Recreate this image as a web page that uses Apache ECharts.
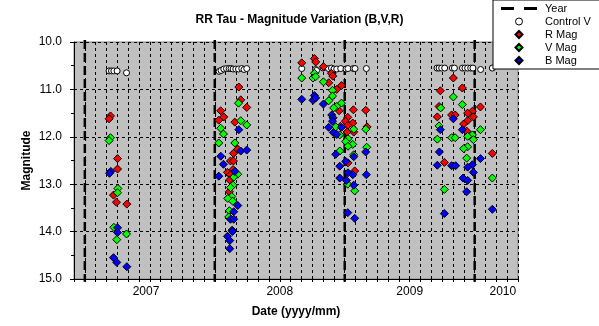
<!DOCTYPE html>
<html><head><meta charset="utf-8">
<script src="https://cdn.jsdelivr.net/npm/echarts@6/dist/echarts.min.js"></script>
<style>html,body{margin:0;padding:0;background:#fff}#c{width:599px;height:326px}</style>
</head><body><div id="c"></div><script>
// x values are months counted from January 2007 (0 = 2007/01)
const yearLines = [0, 12, 24, 36];
const yearLabels = ['2007', '2008', '2009', '2010'];
const yearLabelPos = [5.65, 18, 30, 38.6];
const magTicks = [10, 11, 12, 13, 14, 15];

const controlV = [
  [2.24,10.61],[2.46,10.61],[2.68,10.61],[2.98,10.61],[3.85,10.65],
  [12.4,10.62],[12.58,10.6],[12.83,10.57],[13.08,10.56],[13.32,10.56],[13.5,10.56],[13.69,10.57],[13.94,10.57],[14.19,10.57],[14.49,10.56],[14.7,10.58],[14.95,10.56],
  [20.03,10.56],[21.3,10.58],[21.4,10.6],[22.0,10.55],[22.5,10.56],[22.77,10.55],[22.9,10.66],[23.0,10.57],[23.26,10.57],[23.63,10.56],[24.12,10.57],[24.3,10.56],[24.8,10.56],[24.95,10.56],[26.0,10.56],
  [32.52,10.55],[32.71,10.55],[32.95,10.55],[33.23,10.55],[33.94,10.55],[34.13,10.55],[34.87,10.55],[35.1,10.55],[35.35,10.55],[35.63,10.55],[35.84,10.55],[36.55,10.58],[37.63,10.55]
];
const rMag = [
  [2.37,11.56],[2.24,11.62],[3.02,12.46],[3.02,12.68],[2.65,13.23],[2.92,13.38],[3.88,13.42],
  [14.22,10.95],[14.4,11.22],[14.95,11.38],[12.55,11.45],[12.83,11.58],[12.37,11.65],[13.85,11.69],[14.12,12.26],[13.72,12.35],[13.45,12.51],[13.72,12.51],[13.17,12.75],[13.69,12.69],[13.45,12.8],[13.38,12.91],[13.35,13.16],
  [20.03,10.44],[21.2,10.35],[21.32,10.42],[22.03,10.52],[22.77,10.66],[22.9,10.72],[22.52,10.86],[23.7,10.92],[23.26,11.0],[23.48,11.45],[24.8,11.43],[25.94,11.44],[24.28,11.59],[24.06,11.67],[24.74,11.71],[24.28,11.76],[26.06,11.79],[23.6,11.78],[24.83,11.9],[24.21,11.9],[24.3,12.55],[24.92,12.72],
  [34.03,10.76],[34.86,10.97],[32.83,11.03],[32.71,11.36],[36.53,11.37],[35.79,11.46],[35.35,11.5],[33.87,11.54],[34.2,11.54],[32.55,11.58],[35.88,11.58],[35.35,11.66],[34.98,11.73],[35.26,11.88],[37.63,12.35],[33.2,12.54]
];
const vMag = [
  [2.37,12.02],[2.24,12.08],[3.05,13.09],[3.02,13.18],[2.68,13.91],[3.85,14.05],[2.95,14.17],
  [14.19,11.29],[14.4,11.66],[14.95,11.75],[12.55,11.82],[12.8,11.94],[12.37,12.13],[13.85,12.13],[14.12,12.79],[13.75,12.85],[13.69,13.02],[13.45,13.07],[13.57,13.26],[13.2,13.3],[13.66,13.36],[13.35,13.56],[13.29,13.69],
  [20.03,10.76],[21.2,10.66],[21.07,10.76],[21.32,10.73],[22.03,10.84],[22.87,11.02],[22.87,11.14],[22.52,11.24],[23.7,11.29],[23.26,11.36],[22.98,11.39],[23.17,11.79],[24.83,11.84],[25.94,11.84],[23.54,11.96],[24.3,12.04],[24.09,12.1],[24.74,12.16],[24.3,12.2],[26.03,12.22],[23.54,12.3],[24.83,12.38],[24.28,13.0],[24.92,13.14],
  [34.03,11.16],[34.86,11.32],[32.86,11.39],[32.71,11.77],[36.53,11.85],[35.79,11.96],[35.35,11.99],[33.87,12.02],[34.2,12.02],[32.55,12.05],[35.88,12.06],[35.35,12.21],[34.98,12.25],[35.26,12.45],[37.63,12.87],[33.2,13.11]
];
const bMag = [
  [2.4,12.73],[2.28,12.77],[3.02,13.92],[3.02,14.02],[2.65,14.55],[2.95,14.65],[3.88,14.74],
  [14.22,11.85],[14.4,12.3],[14.95,12.28],[12.55,12.41],[12.8,12.58],[12.37,12.83],[13.85,12.73],[14.12,13.45],[13.75,13.58],[13.45,13.74],[13.75,13.74],[13.6,13.97],[13.63,14.0],[13.17,14.1],[13.38,14.19],[13.38,14.36],
  [20.03,11.21],[21.2,11.13],[21.07,11.23],[21.32,11.18],[22.03,11.31],[22.8,11.54],[22.92,11.6],[22.87,11.67],[22.52,11.8],[23.7,11.8],[22.95,11.91],[23.26,11.95],[23.17,12.37],[24.83,12.42],[25.94,12.32],[23.54,12.62],[24.3,12.76],[24.09,12.52],[24.74,12.8],[26.0,12.8],[23.54,12.87],[24.15,12.92],[24.83,13.02],[24.28,13.6],[24.92,13.72],
  [34.03,11.62],[34.86,11.85],[32.83,11.85],[32.74,12.32],[36.53,12.46],[35.79,12.59],[35.88,12.75],[35.35,12.64],[33.87,12.61],[34.24,12.61],[32.55,12.6],[34.92,12.87],[35.35,12.92],[35.26,13.16],[37.63,13.53],[33.2,13.62]
];

const FONT = 'Arial, "Liberation Sans", sans-serif';
const yearData = [];
yearLines.forEach(x => { yearData.push([x, 9.96], [x, 15.06], [x, null]); });

const DIAMOND = 'path://M4,0L8,4L4,8L0,4Z';

const chart = echarts.init(document.getElementById('c'), null, {renderer: 'canvas'});
const markerBase = {borderColor: '#000', borderWidth: 1, opacity: 1};
chart.setOption({
  animation: false,
  backgroundColor: '#fff',
  textStyle: {fontFamily: FONT},
  title: {
    text: 'RR Tau - Magnitude Variation (B,V,R)',
    left: 'center', top: 14, padding: 0,
    textStyle: {fontSize: 12, fontWeight: 'bold', color: '#000', fontFamily: FONT}
  },
  legend: {
    orient: 'vertical', left: 493, top: 0,
    padding: [2, 30, 2, 8],
    itemWidth: 36, itemHeight: 7, itemGap: 0,
    symbolKeepAspect: true,
    backgroundColor: '#fff', borderColor: '#000', borderWidth: 1, borderRadius: 0,
    textStyle: {fontSize: 11, lineHeight: 13, color: '#000', fontFamily: FONT, padding: [0, 0, 0, 3]},
    data: [
      {name: 'Year', icon: 'path://M0,0L13,0L13,3L0,3Z M23,0L36,0L36,3L23,3Z', itemStyle: {color: '#000'}},
      {name: 'Control V', icon: 'circle', itemStyle: {color: '#fff', borderColor: '#000', borderWidth: 1}},
      {name: 'R Mag', icon: DIAMOND},
      {name: 'V Mag', icon: DIAMOND},
      {name: 'B Mag', icon: DIAMOND}
    ]
  },
  grid: {
    left: 74, top: 42, right: 81, bottom: 47,
    show: true, backgroundColor: '#c0c0c0', borderColor: '#808080', borderWidth: 1
  },
  xAxis: {
    type: 'value', min: -1, max: 40, interval: 1,
    axisLine: {show: true, onZero: false, lineStyle: {color: '#000', width: 1}},
    axisTick: {show: true, length: 3, lineStyle: {color: '#000'}},
    splitLine: {show: true, lineStyle: {color: '#000', type: [3, 3], width: 1}},
    axisLabel: {
      customValues: yearLabelPos,
      formatter: v => { const i = yearLabelPos.indexOf(v); return i >= 0 ? yearLabels[i] : ''; },
      fontSize: 12, color: '#000', margin: 7, fontFamily: FONT
    },
    name: 'Date (yyyy/mm)', nameLocation: 'middle', nameGap: 27, nameMoveOverlap: false,
    nameTextStyle: {fontSize: 12, fontWeight: 'bold', color: '#000', fontFamily: FONT}
  },
  yAxis: {
    type: 'value', inverse: true, min: magTicks[0], max: magTicks[magTicks.length - 1], interval: 1,
    axisLine: {show: true, onZero: false, lineStyle: {color: '#000', width: 1}},
    axisTick: {show: true, length: 4, lineStyle: {color: '#000'}},
    minorTick: {show: true, splitNumber: 2, length: 3, lineStyle: {color: '#000'}},
    splitLine: {show: true, lineStyle: {color: '#000', type: [3, 3], width: 1}},
    axisLabel: {formatter: v => v.toFixed(1), fontSize: 12, color: '#000', margin: 12, fontFamily: FONT},
    name: 'Magnitude', nameLocation: 'middle', nameGap: 41, nameMoveOverlap: false,
    nameTextStyle: {fontSize: 12, fontWeight: 'bold', color: '#000', fontFamily: FONT}
  },
  series: [
    {name: 'Year', type: 'line', data: yearData, symbol: 'none', connectNulls: false, clip: false,
     lineStyle: {color: '#000', width: 2.5, type: [9, 4]}, itemStyle: {color: '#000'}, z: 2},
    {name: 'Control V', type: 'scatter', data: controlV, symbol: 'circle', symbolSize: 6,
     itemStyle: Object.assign({color: '#fff'}, markerBase), z: 3},
    {name: 'R Mag', type: 'scatter', data: rMag, symbol: 'diamond', symbolSize: 8,
     itemStyle: Object.assign({color: '#ff0000'}, markerBase), z: 3},
    {name: 'V Mag', type: 'scatter', data: vMag, symbol: 'diamond', symbolSize: 8,
     itemStyle: Object.assign({color: '#00ff00'}, markerBase), z: 3},
    {name: 'B Mag', type: 'scatter', data: bMag, symbol: 'diamond', symbolSize: 8,
     itemStyle: Object.assign({color: '#0000ff'}, markerBase), z: 3}
  ]
});
</script></body></html>
